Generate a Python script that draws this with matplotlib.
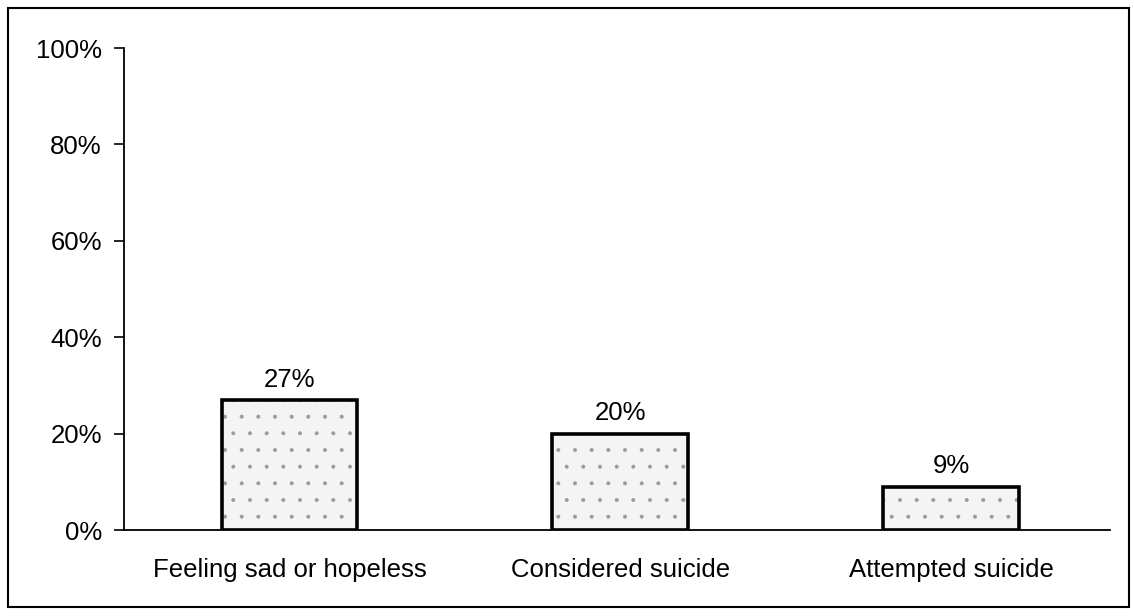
import matplotlib.pyplot as plt
from matplotlib.patches import Rectangle
from matplotlib.ticker import FuncFormatter

categories = ['Feeling sad or hopeless', 'Considered suicide', 'Attempted suicide']
values = [27, 20, 9]
bar_labels = ['27%', '20%', '9%']
yticks = [0, 20, 40, 60, 80, 100]

plt.rcParams['font.family'] = ['Liberation Sans', 'DejaVu Sans']
plt.rcParams['hatch.linewidth'] = 0.4

fig = plt.figure(figsize=(11.34, 6.16), dpi=100)
ax = fig.add_axes([124/1134, 1-530/616, (1110-124)/1134, (530-48)/616])

x = list(range(len(categories)))
# speckled fill first, then the heavy black outline on top
ax.bar(x, values, width=0.41, facecolor='#f4f4f4', edgecolor='#9a9a9a',
       linewidth=0, hatch='.')
ax.bar(x, values, width=0.41, fill=False, edgecolor='black', linewidth=2.6)

for xi, v, lab in zip(x, values, bar_labels):
    ax.annotate(lab, (xi, v), xytext=(0, 6), textcoords='offset points',
                ha='center', va='bottom', fontsize=18.5)

ax.set_xlim(-0.5, 2.48)
ax.set_ylim(0, 100)
ax.set_yticks(yticks)
ax.yaxis.set_major_formatter(FuncFormatter(lambda v, p: '%d%%' % v))
ax.set_xticks(x)
ax.set_xticklabels(categories)
ax.tick_params(axis='y', length=7, width=1.2, pad=9, labelsize=18.5)
ax.tick_params(axis='x', length=0, pad=20, labelsize=18.5)
ax.spines['top'].set_visible(False)
ax.spines['right'].set_visible(False)
ax.spines['left'].set_linewidth(1.3)
ax.spines['bottom'].set_linewidth(1.3)

# outer frame around the chart
fig.patches.append(Rectangle((8/1134, 1-607/616), (1129-8)/1134, (607-8)/616,
                             transform=fig.transFigure, fill=False,
                             edgecolor='black', linewidth=1.5))

fig.savefig('out.png', dpi=100)
